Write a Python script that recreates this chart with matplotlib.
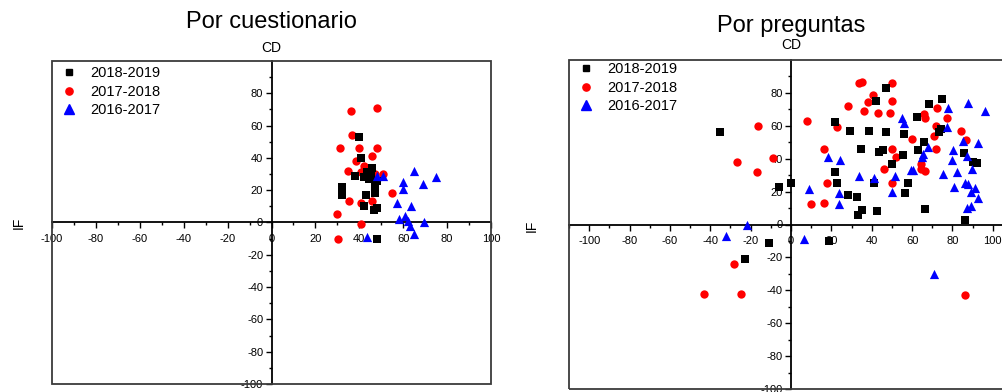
import numpy as np
import matplotlib.pyplot as plt
from matplotlib.lines import Line2D
from matplotlib.patches import Rectangle
from matplotlib.ticker import FixedLocator

plt.rcParams["font.family"] = ["Liberation Sans", "DejaVu Sans"]
plt.rcParams["axes.unicode_minus"] = False

W, H = 1003, 392

# Por cuestionario
cuest_1819_x = [40, 41, 46, 38, 43.5, 42, 44.5, 45.5, 48, 47, 32, 32, 43, 47, 42, 46.5, 48, 48]
cuest_1819_y = [53, 40, 34, 29, 31, 28, 27, 30, 26, 22, 22, 17, 17, 18, 10, 8, 9, -10]
cuest_1718_x = [48, 36, 36.5, 31, 40, 48, 46, 38.5, 42, 35, 41, 51, 47, 55, 35.5, 46, 41, 30, 41, 30.5]
cuest_1718_y = [71, 69, 54, 46, 46, 46, 41, 38, 35, 32, 31, 30, 30, 18, 13.5, 13.5, 12, 5, -1, -10]
cuest_1617_x = [65, 75, 48, 51, 69, 60, 60, 57, 63.5, 58, 61, 62, 69.5, 63, 65, 43.5]
cuest_1617_y = [32, 28, 29, 29, 24, 25, 20.5, 12, 10, 2, 4, 1, 0, -2, -7, -9]

# Por preguntas
preg_1819_x = [47, 42, 75, 68.5, 62.5, 22, 29, 38.5, 47, 56, 74.5, 73.5, 66, 34.5, 63, 43.5,
               45.5, 55.5, 50, 22, 23, 41, 58, 56.5, 28, 32.5, 35, 33, 42.5, 66.5, 85.5, 90,
               92, 86, -6, 0, -11, 19, -35, -23]
preg_1819_y = [83, 75, 76, 73, 65.5, 62.5, 57, 57, 56.5, 55, 58, 56.5, 50, 46, 45, 44,
               45, 42.5, 37, 32, 25, 25, 25.5, 19, 18, 17, 9, 6, 8, 9.5, 43.5, 38,
               37.5, 3, 23, 25, -11, -10, 56, -21]
preg_1718_x = [33.5, 35, 50, 40.5, 38, 50, 28, 36, 43, 49, 8, 23, 60, 16.5, 50, 52, 46, 18,
               50, 10, 16.5, -16.5, -9, -27, -17, 64.5, 64.5, 66.5, 66, 66.5, 72.5, 72, 71,
               72, 77.5, 84, 86.5, 86, -28, -43, -25]
preg_1718_y = [86, 86.5, 86, 79, 74.5, 75, 72, 69, 68, 68, 63, 59, 52, 46, 46, 41, 34, 25,
               25, 12.5, 13, 60, 40.5, 38, 32, 37, 34, 32.5, 67, 65, 71, 60, 53.5,
               46, 64.5, 57, 51.5, -43, -24, -42, -42]
preg_1617_x = [87.5, 96, 78, 55, 56, 77.5, 85, 92.5, 68, 65.5, 65, 80.5, 87, 80, 18.5, 24.5,
               59.5, 60.5, 75.5, 82.5, 89.5, 33.5, 41, 51.5, 9, 24, 50, 24, 81, 86, 87.5,
               91, 89, 92.5, 87, 89, 6.5, -22, -32, 71]
preg_1617_y = [74, 69, 71, 65, 61.5, 59.5, 51, 49.5, 47, 43, 41, 45, 41.5, 39.5, 41, 39.5,
               33, 33, 31, 32, 34, 29.5, 28, 29.5, 21.5, 19, 20, 12.5, 23, 25.5, 24.5,
               22, 19.5, 16, 10, 11, -9, -0.5, -7, -30]

labels = ["2018-2019", "2017-2018", "2016-2017"]
xticks = np.arange(-100, 101, 20)
yticks = np.arange(-100, 81, 20)


def px(x, y):
    return x / W, 1 - y / H


def style_axes(ax, xlim):
    ax.set_xlim(*xlim)
    ax.set_ylim(-100, 100)
    ax.spines["top"].set_visible(False)
    ax.spines["right"].set_visible(False)
    ax.spines["left"].set_position(("data", 0))
    ax.spines["bottom"].set_position(("data", 0))
    for s in ("left", "bottom"):
        ax.spines[s].set_linewidth(1.3)
    ax.add_patch(Rectangle((0, 0), 1, 1, transform=ax.transAxes, fill=False,
                           ec="#3a3a3a", lw=1.3, clip_on=False, zorder=5))
    ax.xaxis.set_major_locator(FixedLocator(xticks))
    ax.xaxis.set_minor_locator(FixedLocator(np.arange(-110, 111, 10)))
    ax.yaxis.set_major_locator(FixedLocator(yticks))
    ax.yaxis.set_minor_locator(FixedLocator(np.arange(-90, 91, 10)))
    ax.tick_params(which="major", length=4, width=1, labelsize=8, pad=2)
    ax.tick_params(axis="x", which="major", pad=4)
    ax.tick_params(which="minor", length=2.5, width=1)


def draw(ax, d1819, d1718, d1617):
    ax.scatter(*d1718, marker="o", s=36, color="#ff0000", lw=0, zorder=3)
    ax.scatter(*d1819, marker="s", s=28, color="black", lw=0, zorder=3)
    ax.scatter(*d1617, marker="^", s=44, color="#0000ff", lw=0, zorder=3)


def add_legend(ax, x0, y0):
    handles = [
        Line2D([], [], ls="none", marker="s", ms=4.3, color="black"),
        Line2D([], [], ls="none", marker="o", ms=5.2, color="#ff0000"),
        Line2D([], [], ls="none", marker="^", ms=6.5, color="#0000ff"),
    ]
    ax.legend(handles, labels, loc="upper left", bbox_to_anchor=px(x0, y0),
              bbox_transform=ax.figure.transFigure, frameon=False, fontsize=10.5,
              handlelength=1.0, handletextpad=0.95, labelspacing=0.32,
              borderpad=0, borderaxespad=0)


fig = plt.figure(figsize=(W / 100, H / 100), dpi=100)

ax1 = fig.add_axes([52 / W, 8 / H, 439 / W, 323 / H])
style_axes(ax1, (-100, 100))
draw(ax1, (cuest_1819_x, cuest_1819_y), (cuest_1718_x, cuest_1718_y), (cuest_1617_x, cuest_1617_y))
add_legend(ax1, 62, 66)

ax2 = fig.add_axes([569 / W, 3 / H, 444 / W, 329 / H])
style_axes(ax2, (-110, 110))
draw(ax2, (preg_1819_x, preg_1819_y), (preg_1718_x, preg_1718_y), (preg_1617_x, preg_1617_y))
add_legend(ax2, 579, 62)

fig.text(*px(271, 28), "Por cuestionario", fontsize=17, ha="center", va="baseline")
fig.text(*px(271, 52), "CD", fontsize=10, ha="center", va="baseline")
fig.text(*px(19, 223), "IF", fontsize=10, ha="center", va="center", rotation=90)

fig.text(*px(791, 32), "Por preguntas", fontsize=17, ha="center", va="baseline")
fig.text(*px(791, 49), "CD", fontsize=10, ha="center", va="baseline")
fig.text(*px(532, 226), "IF", fontsize=10, ha="center", va="center", rotation=90)

fig.savefig("out.png", dpi=100)
